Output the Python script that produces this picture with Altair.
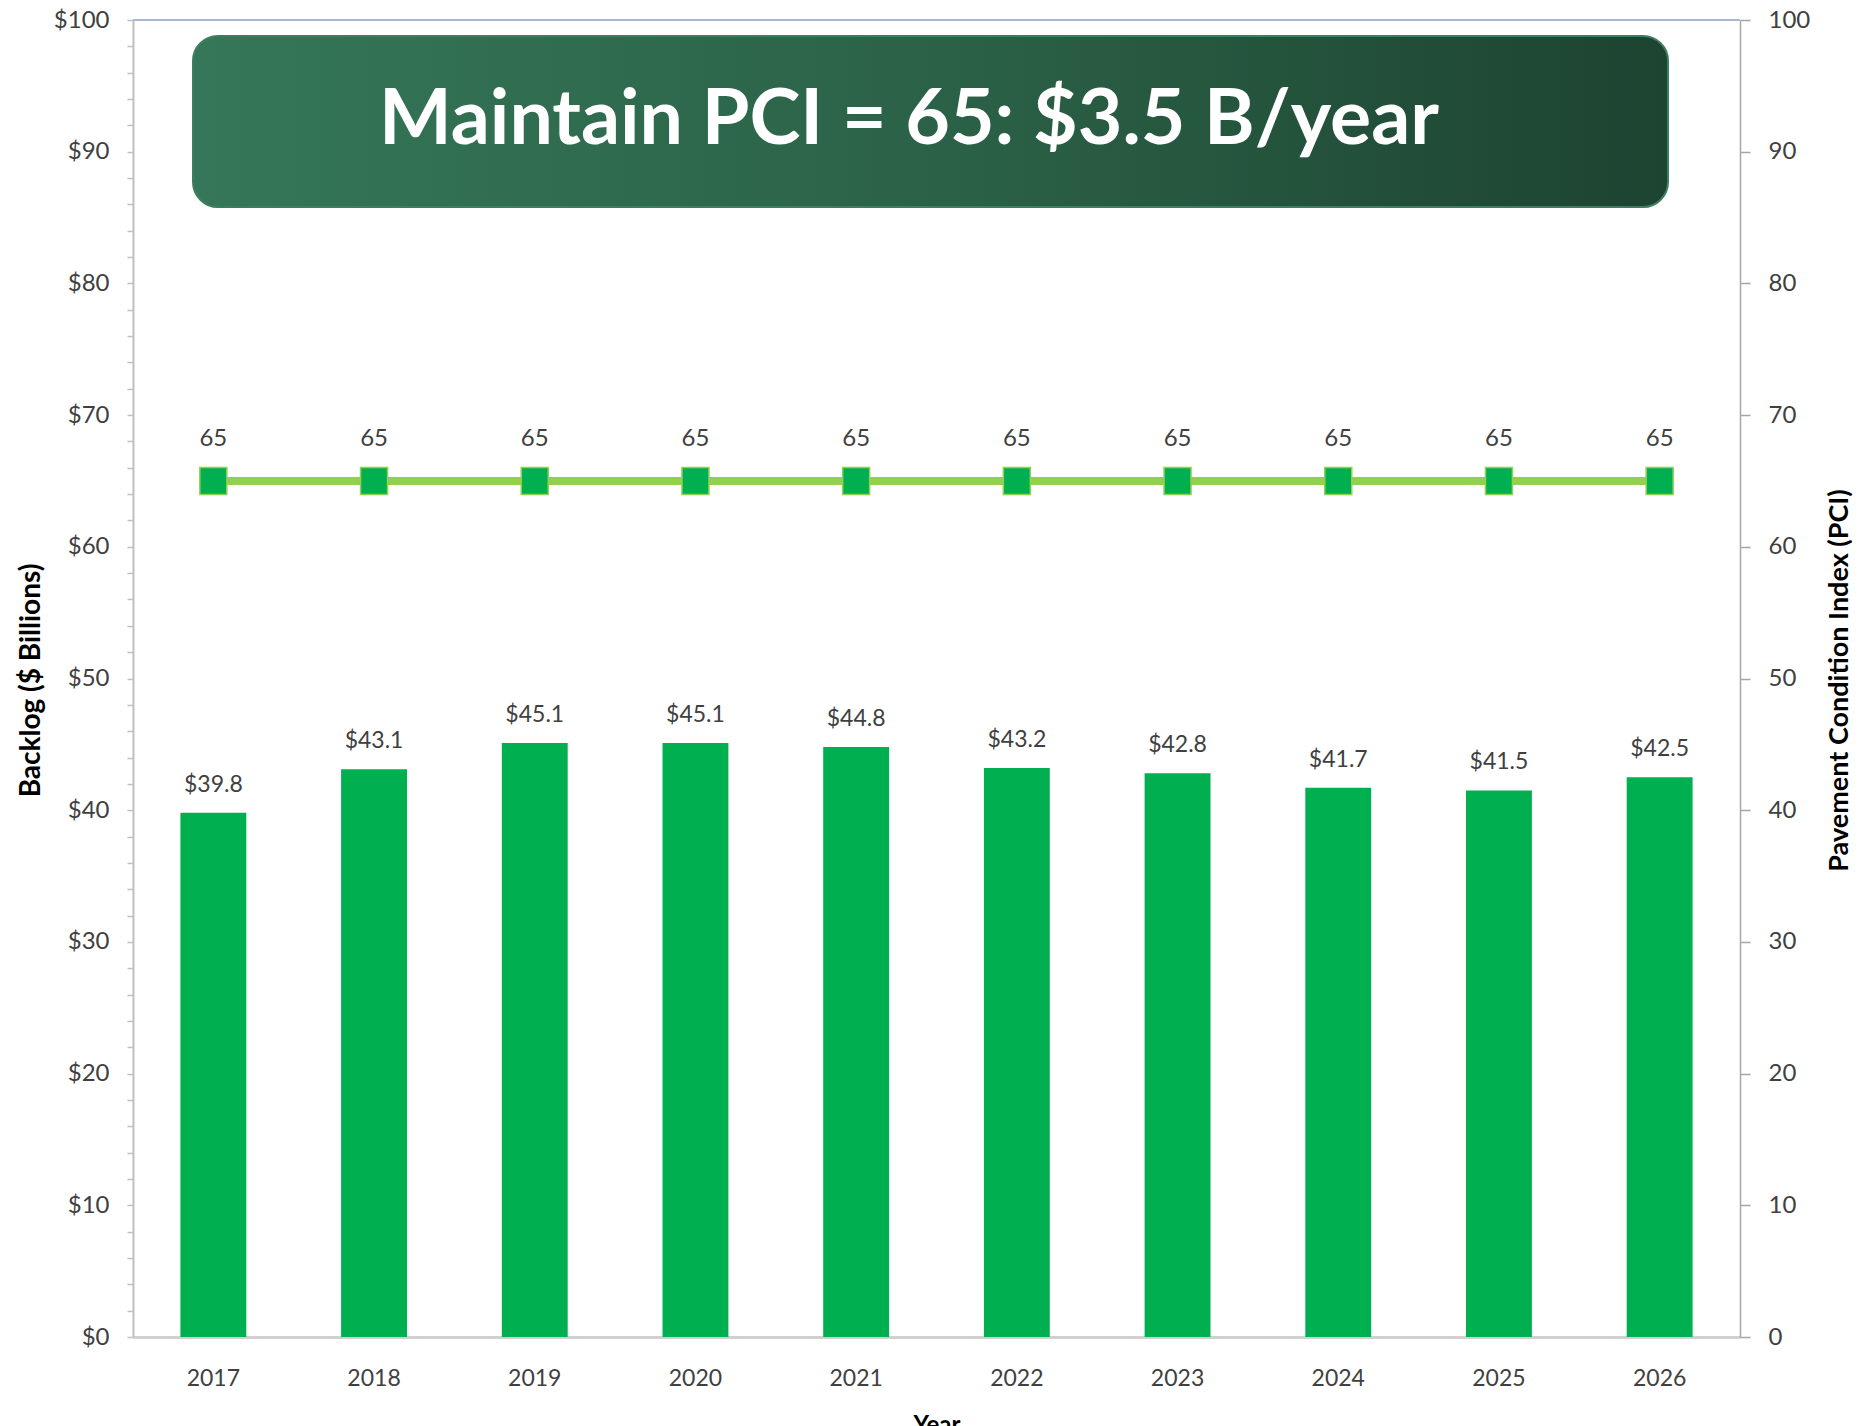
import altair as alt
import pandas as pd

# ---- data ----
years = ["2017", "2018", "2019", "2020", "2021", "2022", "2023", "2024", "2025", "2026"]
backlog = [39.8, 43.1, 45.1, 45.1, 44.8, 43.2, 42.8, 41.7, 41.5, 42.5]
pci = [65, 65, 65, 65, 65, 65, 65, 65, 65, 65]
banner_text = ["Maintain PCI = 65: $3.5 B/year"]
left_ticks = list(range(0, 101, 2))
right_ticks = list(range(0, 101, 10))

df = pd.DataFrame({"year": years, "backlog": backlog, "pci": pci})
banner_df = pd.DataFrame({"t": banner_text})

W, H = 1607, 1317
FONT = "Lato"
TXT = "#404040"

x_enc = alt.X(
    "year:N",
    sort=years,
    scale=alt.Scale(paddingInner=0.59, paddingOuter=0.295),
    axis=alt.Axis(
        title="Year", labelAngle=0, tickSize=0, labelPadding=30,
        labelFontSize=23, labelFont=FONT, labelColor=TXT,
        domainColor="#D0D0D0", domainWidth=3,
        titleFont=FONT, titleFontSize=24, titleFontWeight="bold", titleColor="#000000",
        titleY=76, titleBaseline="top",
    ),
)

y_left = alt.Y(
    "backlog:Q",
    scale=alt.Scale(domain=[0, 100], nice=False),
    axis=alt.Axis(
        values=left_ticks,
        labelExpr="datum.value % 10 == 0 ? '$' + datum.value : ''",
        tickSize=6, tickColor="#BFBFBF", tickWidth=1.5,
        domainColor="#BFBFBF", domainWidth=2,
        labelPadding=18, labelFontSize=24, labelFont=FONT, labelColor=TXT,
        labelFlush=False, labelOverlap=False, grid=False,
        title="Backlog ($ Billions)", titleFont=FONT, titleFontSize=28,
        titleFontWeight="bold", titleColor="#000000",
        titleX=-102, titleY=660, titleAngle=270, titleBaseline="middle", titleAlign="center",
    ),
)

y_left_plain = alt.Y("backlog:Q", scale=alt.Scale(domain=[0, 100], nice=False), axis=None)

y_right = alt.Y(
    "pci:Q",
    scale=alt.Scale(domain=[0, 100], nice=False),
    axis=alt.Axis(
        orient="right", values=right_ticks,
        tickSize=10, tickColor="#A6A6A6", tickWidth=1.5,
        domainColor="#A6A6A6", domainWidth=1.5,
        labelPadding=18, labelFontSize=24, labelFont=FONT, labelColor=TXT,
        labelFlush=False, grid=False,
        title="Pavement Condition Index (PCI)", titleFont=FONT, titleFontSize=27,
        titleFontWeight="bold", titleColor="#000000",
        titleX=99, titleY=660, titleAngle=270, titleBaseline="middle", titleAlign="center",
    ),
)
y_right_plain = alt.Y("pci:Q", scale=alt.Scale(domain=[0, 100], nice=False), axis=None)

base = alt.Chart(df)

bars = base.mark_bar(color="#00B050").encode(x=x_enc, y=y_left)

bar_text = base.mark_text(
    font=FONT, fontSize=23, color=TXT, baseline="alphabetic", dy=-21
).encode(x=x_enc, y=y_left_plain, text=alt.Text("backlog:Q", format="$.1f"))

line = base.mark_line(color="#92D050", strokeWidth=8).encode(x=x_enc, y=y_right)

points = base.mark_point(
    shape="square", filled=True, size=729, color="#00B050",
    stroke="#92D050", strokeWidth=1.5, opacity=1
).encode(x=x_enc, y=y_right_plain)

pci_text = base.mark_text(
    font=FONT, fontSize=24, color=TXT, baseline="alphabetic", dy=-35
).encode(x=x_enc, y=y_right_plain, text=alt.Text("pci:Q", format="d"))

top_rule = alt.Chart(banner_df).mark_rule(color="#A7B9D3", strokeWidth=2).encode(
    x=alt.value(0), x2=alt.value(W), y=alt.value(0)
)

banner = alt.Chart(banner_df).mark_rect(
    cornerRadius=25,
    fill={
        "gradient": "linear",
        "x1": 0, "y1": 0, "x2": 1, "y2": 0,
        "stops": [
            {"offset": 0, "color": "#357758"},
            {"offset": 0.5, "color": "#2B6247"},
            {"offset": 1, "color": "#1D4331"},
        ],
    },
    stroke="#3C7F5E", strokeWidth=2,
).encode(x=alt.value(60), x2=alt.value(1535), y=alt.value(16), y2=alt.value(187))

banner_label = alt.Chart(banner_df).mark_text(
    font=FONT, fontWeight="bold", fontSize=77, color="white",
    align="center", baseline="alphabetic"
).encode(x=alt.value(776), y=alt.value(124), text="t:N")

chart = alt.layer(
    top_rule, bars, bar_text, line, points, pci_text, banner, banner_label
).resolve_scale(y="independent").properties(
    width=W, height=H,
    autosize=alt.AutoSizeParams(type="none"),
    padding={"left": 125, "top": 12, "right": 116, "bottom": 89},
).configure_view(strokeWidth=0).configure_axis(grid=False)

chart.save("out.html", embed_options={"renderer": "svg", "actions": False})
